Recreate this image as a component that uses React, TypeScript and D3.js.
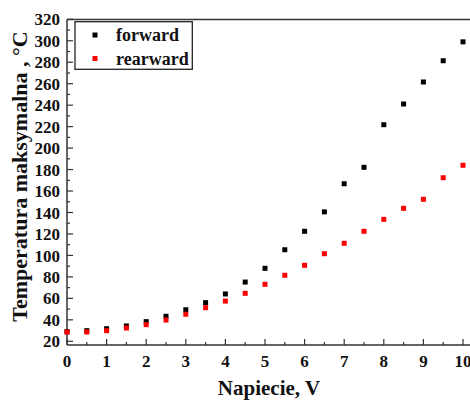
import React from "react";
import * as d3 from "d3";

const voltages = [0, 0.5, 1, 1.5, 2, 2.5, 3, 3.5, 4, 4.5, 5, 5.5, 6, 6.5, 7, 7.5, 8, 8.5, 9, 9.5, 10];
const forward = [29, 29.9, 31.7, 34.3, 38.3, 43.3, 49.4, 56, 64.1, 75.2, 88, 105.3, 122.5, 140.6, 166.8, 182.1, 221.8, 241.1, 261.6, 281.4, 299];
const rearward = [28.6, 28.7, 29.9, 32.4, 35.5, 39.8, 45.2, 51.3, 57.5, 64.7, 73.1, 81.5, 90.8, 101.6, 111.3, 122.5, 133.6, 143.9, 152.3, 172.4, 184];
const seriesNames = ["forward", "rearward"];
const seriesColors = ["#000000", "#ff0000"];
const xTicks = [0, 1, 2, 3, 4, 5, 6, 7, 8, 9, 10];
const yTicks = [20, 40, 60, 80, 100, 120, 140, 160, 180, 200, 220, 240, 260, 280, 300, 320];
const xTitle = "Napiecie, V";
const yTitle = "Temperatura maksymalna , °C";

const W = 470, H = 400;
const left = 67, top = 19.5, bottom = 345, right = 490;
const font = "'Liberation Serif', 'Times New Roman', serif";

export default function App() {
  const x = d3.scaleLinear().domain([0, 10]).range([left, 463]);
  const y = d3.scaleLinear().domain([20, 320]).range([341.3, 19.3]);
  const xMinor = d3.range(0, 10.01, 0.5);
  const yMinor = d3.range(20, 321, 10);
  const data = [forward, rearward];
  const ms = 5;
  return (
    <svg width={W} height={H} style={{ position: "absolute", left: 0, top: 0, background: "#fff" }} fontFamily={font}>
      <line x1={left} x2={right} y1={top} y2={top} stroke="#333" strokeWidth={1.5} />
      <line x1={left} x2={right} y1={bottom} y2={bottom} stroke="#333" strokeWidth={1.5} />
      <line x1={left} x2={left} y1={top} y2={bottom} stroke="#333" strokeWidth={1.5} />
      {xMinor.map((t) => (
        <line key={"xm" + t} x1={x(t)} x2={x(t)} y1={bottom} y2={bottom - (Number.isInteger(t) ? 6 : 3)} stroke="#333" strokeWidth={1.2} />
      ))}
      {xTicks.map((t) => (
        <text key={"xt" + t} x={x(t)} y={367} textAnchor="middle" fontSize={17} fontWeight="bold" fill="#111">{t}</text>
      ))}
      {yMinor.map((t) => (
        <line key={"ym" + t} x1={left} x2={left + (t % 20 === 0 ? 6 : 3)} y1={y(t)} y2={y(t)} stroke="#333" strokeWidth={1.2} />
      ))}
      {yTicks.map((t) => (
        <text key={"yt" + t} x={60} y={y(t)} dy="0.36em" textAnchor="end" fontSize={17} fontWeight="bold" fill="#111">{t}</text>
      ))}
      <text x={269} y={395} textAnchor="middle" fontSize={21} fontWeight="bold" fill="#111">{xTitle}</text>
      <text transform={`translate(27,${176.5}) rotate(-90)`} textAnchor="middle" fontSize={22} fontWeight="bold" fill="#111">{yTitle}</text>
      {data.map((s, si) =>
        s.map((v, i) => (
          <rect key={si + "-" + i} x={x(voltages[i]) - ms / 2} y={y(v) - ms / 2} width={ms} height={ms} fill={seriesColors[si]} />
        ))
      )}
      <rect x={75} y={21.7} width={117.3} height={47.6} fill="#fff" stroke="#222" strokeWidth={1.3} />
      {seriesNames.map((n, i) => (
        <g key={n}>
          <rect x={95 - 2.5} y={35 + i * 23.5 - 2.5} width={5} height={5} fill={seriesColors[i]} />
          <text x={116} y={41 + i * 23.5} fontSize={18} fontWeight="bold" fill="#111">{n}</text>
        </g>
      ))}
    </svg>
  );
}
